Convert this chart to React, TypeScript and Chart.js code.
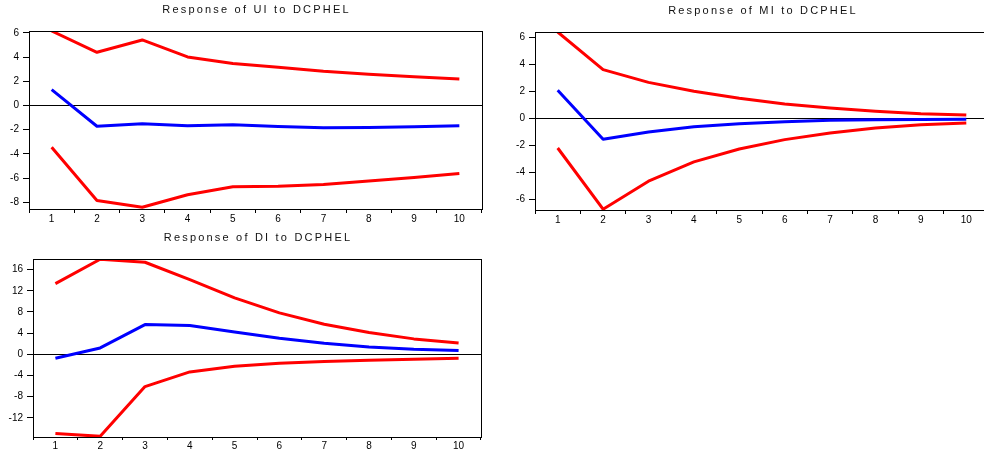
import React, { useEffect, useRef } from "react";
import { Chart, registerables } from "chart.js";

Chart.register(...registerables);

// ---- data ----
const PERIODS = ["1", "2", "3", "4", "5", "6", "7", "8", "9", "10"];

const UI_RESP = [1.32, -1.71, -1.51, -1.68, -1.59, -1.73, -1.84, -1.82, -1.76, -1.68];
const UI_UPPER = [6.16, 4.4, 5.42, 4.02, 3.47, 3.16, 2.83, 2.59, 2.37, 2.2];
const UI_LOWER = [-3.44, -7.84, -8.41, -7.37, -6.71, -6.68, -6.52, -6.24, -5.94, -5.61];
const UI_TICKS = [-8, -6, -4, -2, 0, 2, 4, 6];

const MI_RESP = [2.06, -1.56, -1.02, -0.63, -0.41, -0.26, -0.16, -0.11, -0.09, -0.08];
const MI_UPPER = [6.38, 3.59, 2.65, 1.99, 1.47, 1.05, 0.75, 0.51, 0.33, 0.23];
const MI_LOWER = [-2.21, -6.74, -4.67, -3.24, -2.28, -1.59, -1.1, -0.73, -0.48, -0.36];
const MI_TICKS = [-6, -4, -2, 0, 2, 4, 6];

const DI_RESP = [-0.74, 1.21, 5.62, 5.43, 4.24, 3.04, 2.1, 1.4, 0.96, 0.71];
const DI_UPPER = [13.36, 17.95, 17.39, 14.12, 10.66, 7.83, 5.69, 4.11, 2.92, 2.16];
const DI_LOWER = [-14.96, -15.46, -6.09, -3.32, -2.25, -1.68, -1.37, -1.11, -0.93, -0.74];
const DI_TICKS = [-12, -8, -4, 0, 4, 8, 12, 16];

const RED = "#ff0000";
const BLUE = "#0000ff";
const TICK_FONT = { family: '"Liberation Sans", Arial, sans-serif', size: 10 };

type Spec = {
  title: string;
  resp: number[];
  upper: number[];
  lower: number[];
  ticks: number[];
  min: number;
  max: number;
  left: number;
  top: number;
  width: number;
  height: number;
  yW: number;
  xH: number;
  padTop: number;
  padRight: number;
  xTickLen: number;
};

const PANELS: Spec[] = [
  {
    title: "Response of UI to DCPHEL",
    resp: UI_RESP, upper: UI_UPPER, lower: UI_LOWER, ticks: UI_TICKS,
    min: -8.55, max: 6.16,
    left: 0, top: 0, width: 490, height: 225,
    yW: 29, xH: 16, padTop: 31, padRight: 8, xTickLen: 4,
  },
  {
    title: "Response of MI to DCPHEL",
    resp: MI_RESP, upper: MI_UPPER, lower: MI_LOWER, ticks: MI_TICKS,
    min: -6.8, max: 6.38,
    left: 490, top: 0, width: 500, height: 225,
    yW: 45, xH: 15, padTop: 32, padRight: 1, xTickLen: 4,
  },
  {
    title: "Response of DI to DCPHEL",
    resp: DI_RESP, upper: DI_UPPER, lower: DI_LOWER, ticks: DI_TICKS,
    min: -15.6, max: 18.0,
    left: 0, top: 225, width: 490, height: 226,
    yW: 33, xH: 14, padTop: 34, padRight: 9, xTickLen: 3,
  },
];

const framePlugin = {
  id: "frame",
  afterDraw(chart: any) {
    const { ctx, chartArea: a } = chart;
    ctx.save();
    ctx.strokeStyle = "#000";
    ctx.lineWidth = 1;
    ctx.strokeRect(Math.round(a.left) + 0.5, Math.round(a.top) + 0.5, Math.round(a.right - a.left), Math.round(a.bottom - a.top));
    ctx.restore();
  },
};

const titlePlugin = (title: string) => ({
  id: "panelTitle",
  afterDraw(chart: any) {
    const { ctx, chartArea: a } = chart;
    ctx.save();
    ctx.font = '11px "Liberation Sans", Arial, sans-serif';
    try {
      (ctx as any).letterSpacing = "2.2px";
    } catch (e) {}
    ctx.fillStyle = "#111";
    ctx.textAlign = "center";
    ctx.textBaseline = "middle";
    ctx.fillText(title, (a.left + a.right) / 2 + 1, a.top - 21);
    ctx.restore();
  },
});

function Panel({ spec }: { spec: Spec }) {
  const ref = useRef<HTMLCanvasElement | null>(null);
  useEffect(() => {
    if (!ref.current) return;
    const line = (data: number[], color: string) => ({
      data,
      borderColor: color,
      backgroundColor: color,
      borderWidth: 3,
      pointRadius: 0,
      tension: 0,
      fill: false,
    });
    const chart = new Chart(ref.current, {
      type: "line",
      data: {
        labels: PERIODS,
        datasets: [line(spec.upper, RED), line(spec.lower, RED), line(spec.resp, BLUE)],
      },
      options: {
        responsive: false,
        animation: false,
        devicePixelRatio: 1,
        layout: { padding: { top: spec.padTop, right: spec.padRight, left: 0, bottom: 0 } },
        plugins: {
          legend: { display: false },
          tooltip: { enabled: false },
          title: { display: false },
        },
        elements: { line: { borderJoinStyle: "round" } },
        scales: {
          x: {
            type: "category",
            offset: true,
            grid: {
              offset: true,
              drawOnChartArea: false,
              drawTicks: true,
              tickLength: spec.xTickLen,
              tickColor: "#000",
            },
            border: { display: false },
            ticks: { font: TICK_FONT, color: "#000", padding: 0, maxRotation: 0, autoSkip: false },
            afterFit: (s: any) => {
              s.height = spec.xH;
            },
          },
          y: {
            min: spec.min,
            max: spec.max,
            afterBuildTicks: (s: any) => {
              s.ticks = spec.ticks.map((v) => ({ value: v }));
            },
            grid: {
              color: (c: any) => (c.tick && c.tick.value === 0 ? "#000" : "rgba(0,0,0,0)"),
              lineWidth: 1,
              drawTicks: true,
              tickLength: 6,
              tickColor: "#000",
            },
            border: { display: false },
            ticks: { font: TICK_FONT, color: "#000", padding: 4 },
            afterFit: (s: any) => {
              s.width = spec.yW;
            },
          },
        },
      } as any,
      plugins: [framePlugin, titlePlugin(spec.title)],
    });
    return () => chart.destroy();
  }, [spec]);
  return (
    <canvas
      ref={ref}
      width={spec.width}
      height={spec.height}
      style={{ position: "absolute", left: spec.left, top: spec.top, width: spec.width, height: spec.height, display: "block" }}
    />
  );
}

export default function App() {
  return (
    <div
      style={{
        position: "absolute",
        left: 0,
        top: 0,
        width: 984,
        height: 451,
        overflow: "hidden",
        background: "#fff",
      }}
    >
      {PANELS.map((p, i) => (
        <Panel key={i} spec={p} />
      ))}
    </div>
  );
}
